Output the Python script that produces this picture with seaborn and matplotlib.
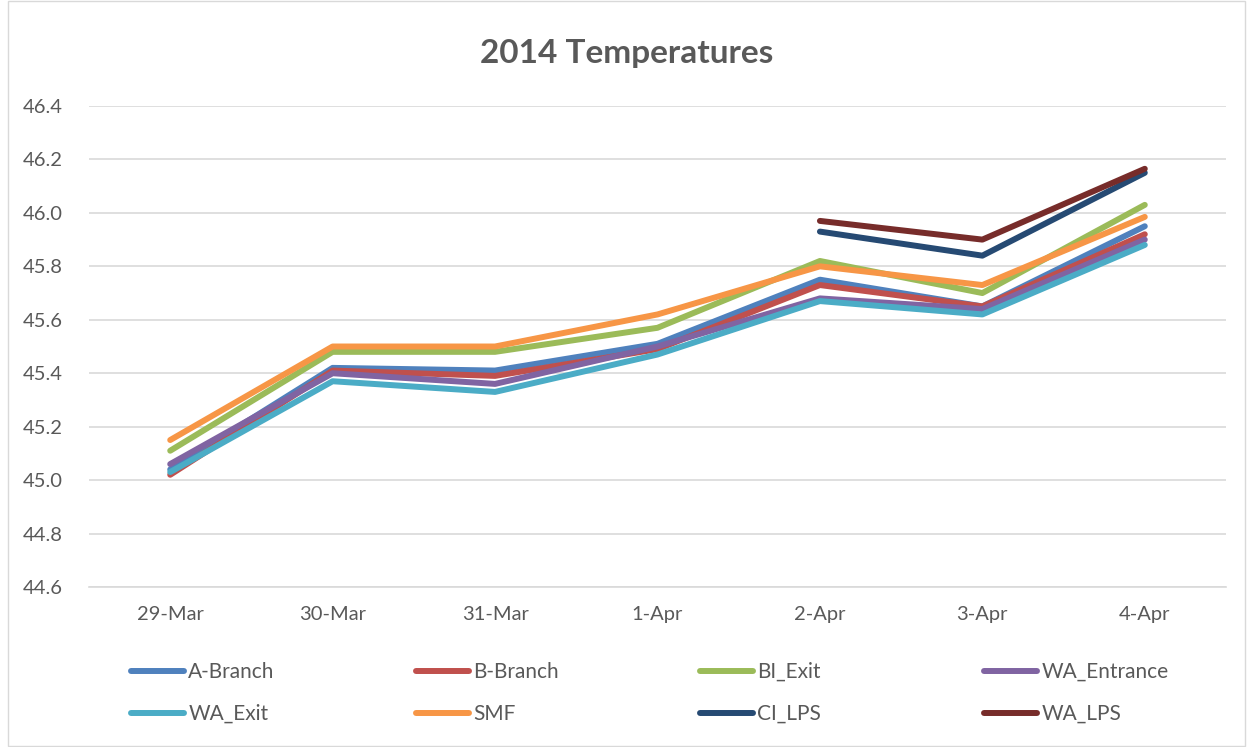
import numpy as np
import pandas as pd
import seaborn as sns
import matplotlib
matplotlib.use("Agg")
import matplotlib.pyplot as plt
from matplotlib.patches import Rectangle

dates = ["29-Mar", "30-Mar", "31-Mar", "1-Apr", "2-Apr", "3-Apr", "4-Apr"]
a_branch = [45.04, 45.42, 45.41, 45.51, 45.75, 45.65, 45.95]
b_branch = [45.02, 45.41, 45.39, 45.49, 45.73, 45.65, 45.92]
bi_exit = [45.11, 45.48, 45.48, 45.57, 45.82, 45.70, 46.03]
wa_entrance = [45.06, 45.40, 45.36, 45.50, 45.68, 45.64, 45.90]
wa_exit = [45.03, 45.37, 45.33, 45.47, 45.67, 45.62, 45.88]
smf = [45.15, 45.50, 45.50, 45.62, 45.80, 45.73, 45.985]
ci_lps = [np.nan, np.nan, np.nan, np.nan, 45.93, 45.84, 46.15]
wa_lps = [np.nan, np.nan, np.nan, np.nan, 45.97, 45.90, 46.165]

series = {
    "A-Branch": a_branch,
    "B-Branch": b_branch,
    "BI_Exit": bi_exit,
    "WA_Entrance": wa_entrance,
    "WA_Exit": wa_exit,
    "SMF": smf,
    "CI_LPS": ci_lps,
    "WA_LPS": wa_lps,
}
colors = {
    "A-Branch": "#4F81BD",
    "B-Branch": "#C0504D",
    "BI_Exit": "#9BBB59",
    "WA_Entrance": "#8064A2",
    "WA_Exit": "#4BACC6",
    "SMF": "#F79646",
    "CI_LPS": "#264A73",
    "WA_LPS": "#772C2A",
}

rows = []
for name, vals in series.items():
    for d, v in zip(dates, vals):
        if not np.isnan(v):
            rows.append({"date": d, "value": v, "series": name})
df = pd.DataFrame(rows)
df["date"] = pd.Categorical(df["date"], categories=dates, ordered=True)
df["xi"] = df["date"].cat.codes

sns.set_theme(style="white")
plt.rcParams["font.family"] = ["Lato", "DejaVu Sans"]
txt = "#595959"
lw = 4.3

fig = plt.figure(figsize=(12.53, 7.47), dpi=100)
ax = fig.add_axes([89 / 1253, 1 - 587 / 747, (1226 - 89) / 1253, (587 - 106) / 747])

sns.lineplot(data=df, x="xi", y="value", hue="series", hue_order=list(series.keys()),
             palette=colors, linewidth=lw, ax=ax, sort=True,
             solid_capstyle="round", solid_joinstyle="round")

ax.set_xlim(-0.5, len(dates) - 0.5)
ax.set_ylim(44.6, 46.4)
yt = np.arange(44.6, 46.41, 0.2)
ax.set_yticks(yt)
ax.set_yticklabels([f"{v:.1f}" for v in yt], fontsize=14.5, color=txt)
ax.set_xticks(range(len(dates)))
ax.set_xticklabels(dates, fontsize=14.5, color=txt)
ax.tick_params(axis="x", length=0, pad=14)
ax.tick_params(axis="y", length=0, pad=19)
ax.grid(axis="y", color="#D9D9D9", linewidth=1.2)
ax.set_axisbelow(True)
for s in ["top", "right", "left"]:
    ax.spines[s].set_visible(False)
ax.spines["bottom"].set_color("#D9D9D9")
ax.spines["bottom"].set_linewidth(1.2)
ax.set_xticks(np.arange(-0.5, len(dates), 1.0), minor=True)
ax.tick_params(axis="x", which="minor", length=10, color="#D9D9D9", width=1.2)
ax.set_xlabel("")
ax.set_ylabel("")

fig.text(0.5, 1 - 53 / 747, "2014 Temperatures", ha="center", va="center",
         fontsize=24, fontweight="bold", color=txt)

handles, labels = ax.get_legend_handles_labels()
ax.get_legend().remove()
hmap = dict(zip(labels, handles))
columns = [["A-Branch", "WA_Exit"], ["B-Branch", "SMF"], ["BI_Exit", "CI_LPS"], ["WA_Entrance", "WA_LPS"]]
col_x = [131, 416, 700, 984]
for cx, names in zip(col_x, columns):
    leg = fig.legend([hmap[k] for k in names], names, ncol=1, frameon=False,
                     loc="upper left", bbox_to_anchor=(cx / 1253, 1 - 662 / 747),
                     borderpad=0, borderaxespad=0,
                     fontsize=15, handlelength=2.55, handletextpad=0.2,
                     labelspacing=1.05, labelcolor=txt)
    for line in leg.get_lines():
        line.set_linewidth(lw)
        line.set_solid_capstyle("round")

fig.patches.append(Rectangle((8 / 1253, 0.001), 1 - 16 / 1253, 0.997, transform=fig.transFigure,
                             fill=False, edgecolor="#D9D9D9", linewidth=1.0))

fig.savefig("out.png", dpi=100)
